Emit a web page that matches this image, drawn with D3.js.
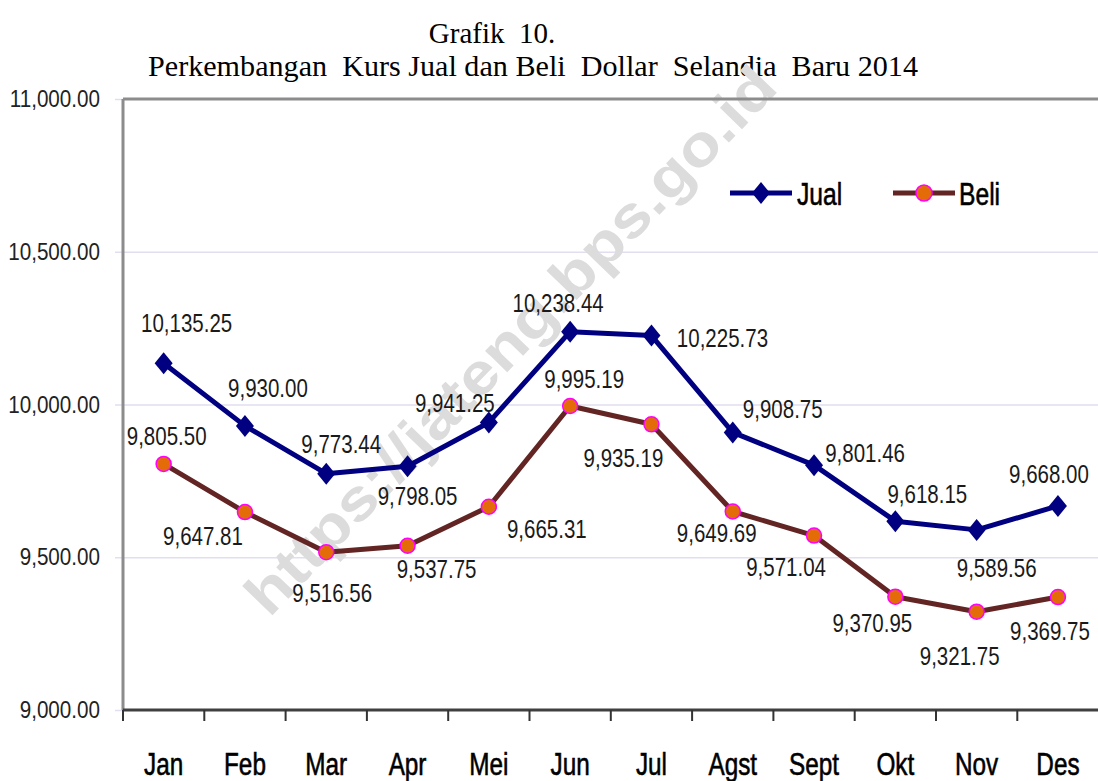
<!DOCTYPE html>
<html>
<head>
<meta charset="utf-8">
<script src="https://cdn.jsdelivr.net/npm/d3@7"></script>
<style>
  html, body { margin: 0; padding: 0; background: #fff; }
  svg { display: block; }
  text { font-family: "Liberation Sans", Arial, sans-serif; }
</style>
</head>
<body>
<svg id="chart" width="1098" height="781"></svg>
<script>
'use strict';

/* ── data ─────────────────────────────────────────────── */
const months = ['Jan', 'Feb', 'Mar', 'Apr', 'Mei', 'Jun', 'Jul', 'Agst', 'Sept', 'Okt', 'Nov', 'Des'];
const jual   = [10135.25, 9930.00, 9773.44, 9798.05, 9941.25, 10238.44, 10225.73, 9908.75, 9801.46, 9618.15, 9589.56, 9668.00];
const beli   = [9805.50, 9647.81, 9516.56, 9537.75, 9665.31, 9995.19, 9935.19, 9649.69, 9571.04, 9370.95, 9321.75, 9369.75];
const yTicks = [9000, 9500, 10000, 10500, 11000];
const gridTicks = [9500, 10000, 10500];

// label nudges relative to each point: [dx, dy to baseline]
const jualLabelPos = [[23, -31], [23, -29], [15, -21], [10, 39], [-34, -10], [-12, -20],
                      [71, 11], [50, -14], [51, -3], [32, -18], [20, 47], [-9, -23]];
const beliLabelPos = [[3, -19], [-42, 33], [6, 50], [29, 32], [58, 31], [14, -18],
                      [-28, 43], [-16, 30], [-28, 40], [-23, 35], [-17, 53], [-8, 43]];

const JUAL_COL = '#000080';
const BELI_COL = '#632523';
const DOT_FILL = '#e36c09';
const DOT_RING = '#ff00ff';

const svg = d3.select('#chart');

const x = d3.scaleBand().domain(months).range([123, 1098.6]);
const y = d3.scaleLinear().domain([9000, 11000]).range([710, 99]);
const cx = m => x(m) + x.bandwidth() / 2;
const fmt = d3.format(',.2f');

/* ── title ────────────────────────────────────────────── */
svg.append('text')
  .attr('x', 492).attr('y', 43)
  .attr('text-anchor', 'middle')
  .style('font-family', '"Liberation Serif", "Times New Roman", serif')
  .style('font-size', '29px')
  .style('white-space', 'pre')
  .text('Grafik  10.');

svg.append('text')
  .attr('x', 533).attr('y', 76)
  .attr('text-anchor', 'middle')
  .attr('textLength', 770).attr('lengthAdjust', 'spacingAndGlyphs')
  .style('font-family', '"Liberation Serif", "Times New Roman", serif')
  .style('font-size', '29px')
  .style('white-space', 'pre')
  .text('Perkembangan  Kurs Jual dan Beli  Dollar  Selandia  Baru 2014');

/* ── grid + axes ──────────────────────────────────────── */
const grid = svg.append('g')
  .attr('transform', 'translate(123,0)')
  .call(d3.axisLeft(y).tickValues(gridTicks).tickSize(-(1098 - 123)).tickFormat(''));
grid.select('.domain').remove();
grid.selectAll('line').attr('stroke', '#e2def0').attr('stroke-width', 1.5);

const yAxis = svg.append('g')
  .attr('transform', 'translate(123,0)')
  .call(d3.axisLeft(y).tickValues(yTicks).tickSize(8).tickFormat(fmt));
yAxis.select('.domain').remove();
yAxis.selectAll('line').attr('stroke', '#e2def0').attr('stroke-width', 1.5);
yAxis.selectAll('text')
  .attr('x', 0)
  .attr('transform', 'translate(-23,0) scale(0.86,1)')
  .attr('fill', '#222')
  .style('font-size', '24px');

// watermark
svg.append('text')
  .attr('transform', 'translate(510,340) rotate(-46)')
  .attr('text-anchor', 'middle')
  .attr('dy', '0.35em')
  .attr('textLength', 735).attr('lengthAdjust', 'spacingAndGlyphs')
  .attr('fill', '#dcdcdc')
  .style('font-size', '58px')
  .style('font-weight', 'bold')
  .text('https://jateng.bps.go.id');

// frame: top + left in grey
svg.append('line')
  .attr('x1', 123).attr('x2', 1098).attr('y1', y(11000)).attr('y2', y(11000))
  .attr('stroke', '#8c8c8c').attr('stroke-width', 3);
svg.append('line')
  .attr('x1', 123).attr('x2', 123).attr('y1', y(11000)).attr('y2', y(9000))
  .attr('stroke', '#8c8c8c').attr('stroke-width', 3);

const xAxis = svg.append('g')
  .attr('transform', `translate(0,${y(9000)})`)
  .call(d3.axisBottom(x).tickSize(0));
xAxis.select('.domain')
  .attr('d', `M123,0H1098`)
  .attr('stroke', '#404040').attr('stroke-width', 3);
xAxis.selectAll('text')
  .attr('y', 0).attr('dy', null)
  .attr('transform', 'translate(0,65) scale(0.76,1)')
  .attr('fill', '#000')
  .attr('stroke', '#000').attr('stroke-width', 0.6)
  .style('font-size', '32px');

// ticks sit on the category boundaries
xAxis.selectAll('.bound')
  .data(months)
  .enter().append('line')
  .attr('class', 'bound')
  .attr('x1', m => x(m)).attr('x2', m => x(m))
  .attr('y1', 0).attr('y2', 11)
  .attr('stroke', '#333').attr('stroke-width', 2);

/* ── series ───────────────────────────────────────────── */
const line = d3.line().x((d, i) => cx(months[i])).y(d => y(d));
const diamond = 'M0,-11L9,0L0,11L-9,0Z';

svg.append('path').datum(beli)
  .attr('d', line).attr('fill', 'none')
  .attr('stroke', BELI_COL).attr('stroke-width', 5).attr('stroke-linejoin', 'round');

svg.append('path').datum(jual)
  .attr('d', line).attr('fill', 'none')
  .attr('stroke', JUAL_COL).attr('stroke-width', 5).attr('stroke-linejoin', 'round');

svg.append('g').selectAll('path')
  .data(jual)
  .enter().append('path')
  .attr('d', diamond)
  .attr('transform', (d, i) => `translate(${cx(months[i])},${y(d)})`)
  .attr('fill', JUAL_COL);

svg.append('g').selectAll('circle')
  .data(beli)
  .enter().append('circle')
  .attr('cx', (d, i) => cx(months[i])).attr('cy', d => y(d))
  .attr('r', 7.5)
  .attr('fill', DOT_FILL).attr('stroke', DOT_RING).attr('stroke-width', 1.5);

// data labels
function labels(values, pos) {
  svg.append('g').selectAll('text')
    .data(values)
    .enter().append('text')
    .attr('text-anchor', 'middle')
    .attr('transform', (d, i) =>
      `translate(${cx(months[i]) + pos[i][0]},${y(d) + pos[i][1]}) scale(0.82,1)`)
    .attr('fill', '#1a1a1a')
    .style('font-size', '25px')
    .text(d => fmt(d));
}
labels(jual, jualLabelPos);
labels(beli, beliLabelPos);

/* ── legend ───────────────────────────────────────────── */
const lg = svg.append('g');
lg.append('line').attr('x1', 730).attr('x2', 792).attr('y1', 193).attr('y2', 193)
  .attr('stroke', JUAL_COL).attr('stroke-width', 5);
lg.append('path').attr('d', diamond).attr('transform', 'translate(761,193)').attr('fill', JUAL_COL);
lg.append('text').attr('transform', 'translate(797,205) scale(0.77,1)')
  .attr('stroke', '#000').attr('stroke-width', 0.6)
  .style('font-size', '32px').text('Jual');

lg.append('line').attr('x1', 893).attr('x2', 955).attr('y1', 193).attr('y2', 193)
  .attr('stroke', BELI_COL).attr('stroke-width', 5);
lg.append('circle').attr('cx', 924).attr('cy', 193).attr('r', 8)
  .attr('fill', DOT_FILL).attr('stroke', DOT_RING).attr('stroke-width', 1.5);
lg.append('text').attr('transform', 'translate(959,205) scale(0.77,1)')
  .attr('stroke', '#000').attr('stroke-width', 0.6)
  .style('font-size', '32px').text('Beli');
</script>
</body>
</html>
